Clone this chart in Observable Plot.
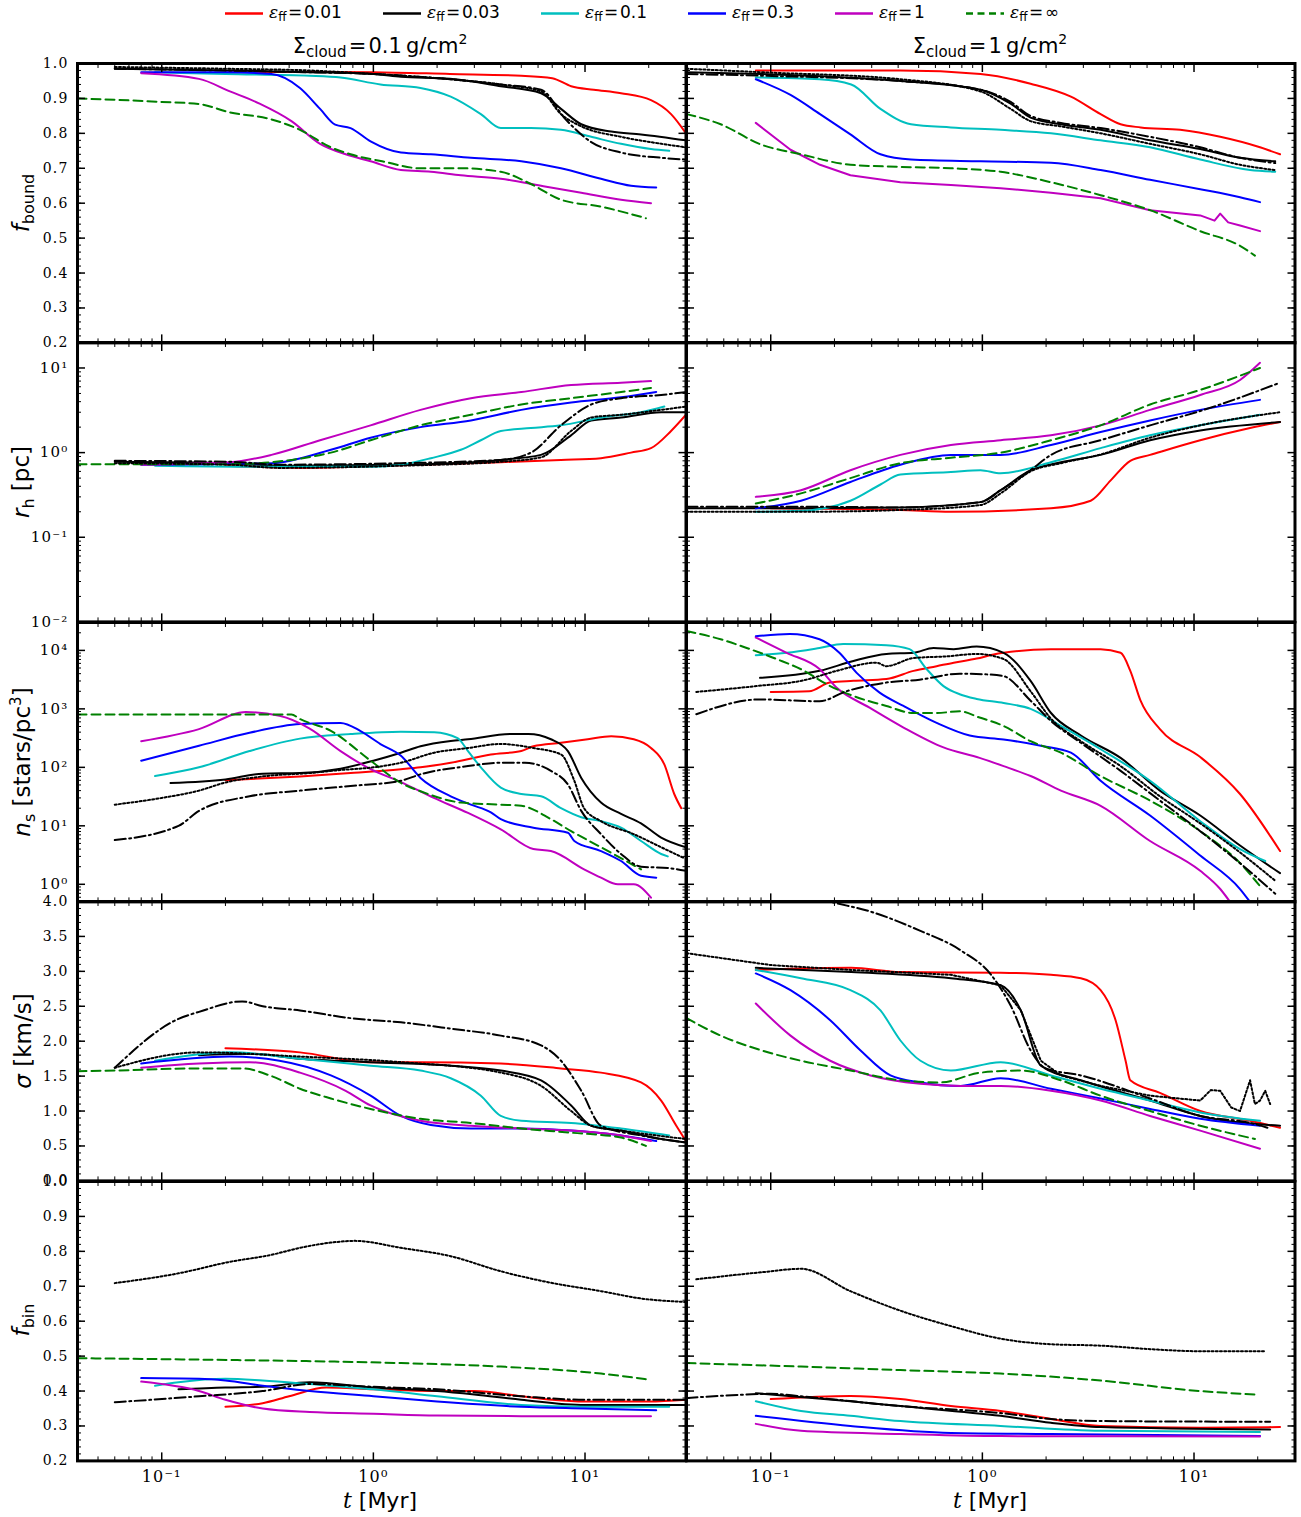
<!DOCTYPE html>
<html><head><meta charset="utf-8">
<script src="https://cdn.jsdelivr.net/npm/d3@7"></script>
<script src="https://cdn.jsdelivr.net/npm/@observablehq/plot@0.6"></script>
<style>
body{margin:0;background:#fff;}
#root{position:relative;width:1301px;height:1517px;overflow:hidden;font-family:"DejaVu Sans",sans-serif;color:#000;}
.abs{position:absolute;white-space:nowrap;line-height:1;}
.ylab{font-size:23px;transform:translate(-50%,-50%) rotate(-90deg);}
.ylab sub{font-size:16px;vertical-align:-5px;}
.ylab sup{font-size:15px;vertical-align:9px;}
.title{font-size:21px;transform:translate(-50%,-50%);}
.title sub{font-size:15px;vertical-align:-4px;}
.title sup{font-size:14px;vertical-align:9px;}
.xlab{font-size:22px;transform:translate(-50%,-50%);}
.leg{font-size:17px;transform:translateY(-50%);}
.leg sub{font-size:12px;vertical-align:-3px;}
</style></head><body><div id="root"></div>
<script>
// ---------------- time axis ticks (Myr) ----------------
const xMajorTicks = [0.1, 1, 10];
const xMinorTicks = [0.05,0.06,0.07,0.08,0.09,0.2,0.3,0.4,0.5,0.6,0.7,0.8,0.9,2,3,4,5,6,7,8,9,20];

// ---------------- row 1 : f_bound ----------------
const fboundL_e001 = [[0.2,0.975],[0.5,0.976],[1,0.975],[2.3,0.97],[5,0.965],[7,0.958],[8.6,0.935],[11,0.925],[14.8,0.915],[20.5,0.895],[25.5,0.855],[30,0.80]];
const fboundL_e003 = [[0.06,0.985],[0.2,0.98],[0.5,0.975],[1,0.97],[1.35,0.962],[2.3,0.956],[4,0.935],[6.2,0.915],[7.7,0.87],[9.6,0.826],[13.3,0.805],[18.4,0.797],[30,0.78]];
const fboundL_e003dot = [[0.06,0.99],[0.2,0.985],[0.5,0.98],[1,0.97],[2.3,0.955],[4,0.94],[6.2,0.92],[7.7,0.855],[9.6,0.82],[14.8,0.79],[23,0.77],[30,0.76]];
const fboundL_e003dd = [[0.06,0.985],[0.2,0.98],[0.5,0.975],[1,0.97],[2.3,0.955],[4,0.94],[6.2,0.925],[8.1,0.84],[10.7,0.775],[14.8,0.745],[23,0.73],[30,0.725]];
const fboundL_e01 = [[0.093,0.975],[0.2,0.97],[0.5,0.965],[0.7,0.96],[1.08,0.94],[1.67,0.93],[2.32,0.905],[3.22,0.855],[4,0.815],[5.55,0.815],[7.7,0.81],[10.7,0.79],[14.8,0.77],[20.5,0.755],[25,0.75]];
const fboundL_e03 = [[0.08,0.975],[0.2,0.975],[0.33,0.97],[0.45,0.93],[0.56,0.87],[0.66,0.825],[0.78,0.815],[0.97,0.777],[1.35,0.745],[1.87,0.74],[2.89,0.73],[5,0.72],[7.7,0.70],[11.9,0.67],[16.5,0.65],[21.7,0.645]];
const fboundL_e1 = [[0.08,0.972],[0.15,0.956],[0.21,0.92],[0.29,0.885],[0.41,0.835],[0.56,0.77],[0.74,0.74],[0.97,0.72],[1.35,0.695],[1.87,0.69],[2.59,0.68],[4,0.67],[6.2,0.65],[9.6,0.63],[14.8,0.61],[20.5,0.60]];
const fboundL_einf = [[0.04,0.90],[0.1,0.89],[0.15,0.884],[0.21,0.86],[0.33,0.84],[0.45,0.81],[0.63,0.76],[0.78,0.74],[1.1,0.72],[1.67,0.70],[2.59,0.70],[4,0.69],[5.55,0.655],[7.7,0.61],[11.9,0.59],[19.4,0.557]];

const fboundR_e001 = [[0.085,0.98],[0.41,0.98],[0.98,0.97],[1.69,0.942],[2.62,0.905],[3.62,0.855],[4.5,0.826],[5.6,0.817],[8.6,0.81],[13.3,0.79],[20.5,0.76],[25.5,0.74]];
const fboundR_e003 = [[0.04,0.975],[0.09,0.97],[0.41,0.95],[0.98,0.925],[1.36,0.885],[1.69,0.845],[2.35,0.826],[3.62,0.81],[6.2,0.78],[10.7,0.755],[16.5,0.73],[24.2,0.72]];
const fboundR_e003dot = [[0.04,0.985],[0.09,0.975],[0.41,0.955],[0.98,0.92],[1.36,0.87],[1.69,0.835],[2.35,0.82],[3.62,0.80],[6.2,0.77],[10.7,0.74],[16.5,0.71],[24.2,0.695]];
const fboundR_e003dd = [[0.04,0.97],[0.09,0.965],[0.41,0.95],[0.98,0.925],[1.36,0.89],[1.69,0.85],[2.35,0.83],[3.62,0.815],[6.2,0.79],[10.7,0.76],[16.5,0.73],[24.2,0.715]];
const fboundR_e01 = [[0.085,0.96],[0.17,0.955],[0.24,0.94],[0.33,0.87],[0.46,0.826],[0.71,0.817],[1.22,0.81],[2.11,0.80],[3.62,0.78],[6.2,0.76],[10.7,0.725],[18.4,0.695],[24.2,0.69]];
const fboundR_e03 = [[0.085,0.955],[0.124,0.91],[0.171,0.855],[0.238,0.797],[0.33,0.74],[0.46,0.725],[0.98,0.72],[2.11,0.716],[3.62,0.695],[6.2,0.667],[10.7,0.64],[16.5,0.617],[20.5,0.603]];
const fboundR_e1 = [[0.085,0.83],[0.124,0.753],[0.171,0.71],[0.238,0.68],[0.41,0.66],[0.71,0.652],[1.22,0.643],[2.11,0.63],[3.62,0.614],[6.2,0.58],[10.7,0.565],[12.5,0.55],[13.3,0.57],[14.5,0.545],[16.5,0.536],[20.5,0.52]];
const fboundR_einf = [[0.04,0.855],[0.058,0.826],[0.09,0.768],[0.139,0.74],[0.238,0.71],[0.41,0.704],[0.71,0.70],[1.22,0.69],[2.11,0.66],[3.62,0.623],[6.2,0.58],[10.7,0.52],[16.5,0.478],[19.4,0.45]];

// ---------------- row 2 : r_h [pc] ----------------
const rhL_e001 = [[0.2,0.70],[0.45,0.66],[1.35,0.71],[4,0.77],[7.7,0.82],[11.9,0.86],[16.5,1.0],[20.5,1.13],[25.5,1.8],[30,2.8]];
const rhL_e003 = [[0.06,0.78],[0.21,0.75],[0.36,0.70],[1.35,0.72],[4,0.82],[6.19,0.94],[8.59,1.6],[10.7,2.4],[14.8,2.6],[22.9,3.0],[30,3.0]];
const rhL_e003dot = [[0.06,0.75],[0.21,0.72],[0.36,0.66],[1.35,0.70],[4,0.78],[6.19,0.88],[8.59,1.8],[10.7,2.6],[14.8,2.8],[22.9,3.2],[30,3.5]];
const rhL_e003dd = [[0.06,0.80],[0.21,0.78],[0.36,0.72],[1.35,0.75],[4,0.82],[5.55,1.0],[7.7,2.1],[10.7,3.7],[14.8,4.4],[22.9,4.8],[30,5.2]];
const rhL_e01 = [[0.093,0.70],[0.3,0.68],[1,0.68],[1.35,0.72],[1.87,0.86],[2.59,1.08],[3.22,1.4],[4,1.8],[5.55,1.95],[7.7,2.1],[11.9,2.6],[18.4,3.0],[23.7,3.5]];
const rhL_e03 = [[0.08,0.72],[0.33,0.75],[0.63,1.08],[0.97,1.5],[1.67,2.0],[2.89,2.4],[5,3.2],[8.6,3.9],[14.8,4.5],[21.7,5.2]];
const rhL_e1 = [[0.08,0.72],[0.21,0.77],[0.33,0.94],[0.56,1.4],[0.97,2.1],[1.67,3.2],[2.89,4.4],[5,5.2],[8.6,6.3],[14.8,6.7],[20.5,7.0]];
const rhL_einf = [[0.04,0.73],[0.21,0.73],[0.33,0.77],[0.45,0.85],[0.63,1.0],[0.97,1.4],[1.67,2.1],[2.89,2.8],[5,3.7],[8.6,4.4],[14.8,5.2],[20.5,5.8]];

const rhR_e001 = [[0.1,0.22],[0.41,0.21],[0.71,0.20],[2.11,0.22],[3.25,0.27],[4.04,0.47],[5,0.8],[6.2,0.94],[10.7,1.4],[18.4,1.95],[25.5,2.3]];
const rhR_e003 = [[0.04,0.22],[0.139,0.22],[0.41,0.225],[0.98,0.26],[1.22,0.36],[1.69,0.62],[2.35,0.77],[3.62,0.94],[6.2,1.4],[10.7,1.83],[25.5,2.3]];
const rhR_e003dot = [[0.04,0.20],[0.139,0.20],[0.41,0.21],[0.98,0.24],[1.22,0.33],[1.69,0.60],[2.35,0.75],[3.62,0.95],[6.2,1.5],[10.7,2.1],[25.5,3.0]];
const rhR_e003dd = [[0.04,0.23],[0.139,0.23],[0.41,0.225],[0.98,0.26],[1.22,0.36],[1.69,0.62],[2.11,0.94],[3.62,1.4],[6.2,2.1],[10.7,3.1],[25.5,6.7]];
const rhR_e01 = [[0.085,0.20],[0.139,0.205],[0.238,0.27],[0.33,0.42],[0.41,0.55],[0.71,0.59],[0.98,0.62],[1.22,0.57],[2.11,0.77],[3.62,1.13],[6.2,1.6],[10.7,2.1],[20.5,2.8]];
const rhR_e03 = [[0.085,0.22],[0.139,0.27],[0.238,0.45],[0.41,0.72],[0.71,0.94],[1.22,0.94],[2.11,1.23],[3.62,1.75],[6.2,2.4],[10.7,3.2],[20.5,4.2]];
const rhR_e1 = [[0.085,0.30],[0.139,0.36],[0.238,0.62],[0.41,0.94],[0.71,1.23],[1.22,1.4],[2.11,1.6],[3.62,2.1],[6.2,3.2],[10.7,4.8],[16.5,7.2],[20.5,11.5]];
const rhR_einf = [[0.085,0.25],[0.139,0.33],[0.238,0.5],[0.41,0.75],[0.71,0.87],[1.22,1.0],[2.11,1.4],[3.62,2.1],[6.2,3.7],[10.7,5.5],[20.5,10]];

// ---------------- row 3 : n_s [stars/pc^3] ----------------
const nsL_e001 = [[0.2,60],[0.45,70],[0.78,80],[1.35,93],[1.67,100],[2.32,120],[3.59,166],[5,190],[5.7,229],[7.7,263],[10.3,302],[13.3,339],[17,302],[20.5,214],[23.7,112],[26.4,35],[28.5,20]];
const nsL_e003 = [[0.11,54],[0.2,62],[0.3,78],[0.45,80],[0.7,95],[1,130],[1.35,178],[1.67,229],[2.32,282],[2.8,302],[4.5,372],[5.4,372],[6.9,302],[8.3,190],[9.6,66],[11.9,25],[14.8,16],[18.4,11],[22.9,6.3],[30,4.3]];
const nsL_e003dot = [[0.06,23],[0.1,30],[0.15,40],[0.2,55],[0.3,70],[0.5,80],[0.7,90],[1,100],[1.35,120],[1.94,178],[2.8,214],[4,251],[5.7,214],[7.7,166],[8.9,59],[9.9,20],[11.9,12],[17,7.2],[22.9,4.3],[29.4,2.8]];
const nsL_e003dd = [[0.06,5.7],[0.12,10],[0.15,18],[0.26,32],[0.45,40],[0.78,48],[1.35,59],[1.67,76],[2.8,105],[4,120],[5.2,120],[6.9,87],[8.3,51],[9.6,18],[11.9,7.2],[14.8,3.3],[18.4,2.0],[24.6,1.9],[30,1.7]];
const nsL_e01 = [[0.093,71],[0.15,100],[0.26,190],[0.45,310],[0.78,370],[1.35,407],[1.94,400],[2.5,316],[2.8,190],[3.22,100],[4,45],[5,35],[6.2,32],[7.7,20],[9.6,14],[11.9,12],[14.8,9.3],[18.4,5.5],[22.9,3.3],[24.6,3.0]];
const nsL_e03 = [[0.08,130],[0.15,234],[0.26,390],[0.45,550],[0.7,575],[0.87,417],[1.08,250],[1.35,158],[1.67,66],[2.32,32],[2.89,23],[3.59,17],[4,13],[5.7,9.3],[8.3,7.6],[8.9,5.5],[11.9,3.7],[14.8,2.5],[18.4,1.4],[21.7,1.3]];
const nsL_e1 = [[0.08,280],[0.15,450],[0.25,880],[0.36,760],[0.5,460],[0.7,190],[0.97,93],[1.35,56],[1.93,30],[2.8,16.6],[4,8.7],[5.7,4.0],[6.9,3.7],[9.9,1.8],[11.9,1.3],[14.3,1.0],[17,1.0],[20.5,0.59]];
const nsL_einf = [[0.04,800],[0.41,800],[0.45,670],[0.63,420],[0.97,130],[1.35,54],[1.67,39],[2.59,25],[4,23],[5,22],[6.9,13],[8.6,8.1],[11.9,4.3],[18.4,1.8]];

const nsR_e001 = [[0.1,1950],[0.152,2000],[0.19,2820],[0.246,3020],[0.352,3240],[0.473,4470],[0.608,5370],[0.732,6170],[0.94,7240],[1.13,8500],[1.26,9100],[2.11,10500],[3.62,10500],[4.5,9100],[5.0,4470],[5.59,1380],[6.9,450],[10.7,150],[16.5,35],[25.5,3.7]];
const nsR_e003 = [[0.089,3390],[0.17,4470],[0.246,6600],[0.352,8700],[0.473,9100],[0.588,11000],[0.732,10500],[0.94,11700],[1.26,9100],[1.69,3000],[2.11,850],[2.92,350],[4.5,145],[6.9,40],[10.7,15],[16.5,4.6],[25.5,1.55]];
const nsR_e003dot = [[0.0445,1950],[0.085,2450],[0.144,3090],[0.205,4470],[0.316,6170],[0.352,5370],[0.473,7400],[0.676,7900],[0.94,8700],[1.26,7100],[1.69,2000],[2.11,680],[2.92,280],[4.5,105],[6.9,32],[10.7,11],[16.5,3.5],[24.2,1.15]];
const nsR_e003dd = [[0.0445,810],[0.089,1450],[0.17,1350],[0.228,2000],[0.352,2820],[0.505,3160],[0.781,4000],[1.05,3890],[1.26,3630],[1.69,1380],[2.11,620],[2.92,263],[4.5,87],[6.9,27],[10.7,8.1],[16.5,2.3],[24.2,0.69]];
const nsR_e01 = [[0.085,8300],[0.119,9100],[0.17,11000],[0.22,12900],[0.352,12300],[0.453,10500],[0.545,4800],[0.655,2450],[0.781,1780],[0.94,1480],[1.26,1260],[1.69,1000],[2.35,510],[3.62,204],[6.2,59],[10.7,12],[16.5,4.0],[21.7,2.5]];
const nsR_e03 = [[0.085,17400],[0.123,19000],[0.17,15500],[0.211,9100],[0.254,4170],[0.327,1900],[0.424,1120],[0.608,575],[0.871,350],[1.26,300],[1.89,234],[2.62,178],[3.62,59],[6.2,15],[10.7,3.1],[16.5,0.83],[18.4,0.5]];
const nsR_e1 = [[0.085,16600],[0.119,9100],[0.17,4800],[0.205,2290],[0.293,1050],[0.424,480],[0.655,219],[0.97,145],[1.26,105],[1.69,71],[2.35,40],[3.62,22],[6.2,5.5],[10.7,1.7],[13.3,0.83],[14.8,0.5]];
const nsR_einf = [[0.04,21400],[0.058,15500],[0.077,11000],[0.107,7080],[0.144,4470],[0.184,2630],[0.246,1660],[0.352,1120],[0.473,850],[0.608,850],[0.781,910],[0.97,710],[1.26,510],[1.69,280],[2.35,178],[3.62,71],[6.2,27],[10.7,8.1],[16.5,2.3],[20.5,0.93]];

// ---------------- row 4 : sigma [km/s] ----------------
const sigL_e001 = [[0.2,1.9],[0.45,1.84],[0.97,1.7],[1.67,1.7],[4,1.68],[7.7,1.61],[11.9,1.55],[18.4,1.41],[22.9,1.15],[27,0.79],[30,0.57]];
const sigL_e003 = [[0.15,1.8],[0.26,1.82],[0.45,1.75],[0.97,1.7],[2.32,1.65],[4,1.58],[6.2,1.44],[8.6,1.08],[10.7,0.79],[14.8,0.72],[22.9,0.6],[30,0.55]];
const sigL_e003dot = [[0.06,1.62],[0.15,1.84],[0.45,1.78],[1.35,1.7],[4,1.55],[6.2,1.36],[8.6,1.0],[10.7,0.79],[14.8,0.72],[30,0.6]];
const sigL_e003dd = [[0.06,1.62],[0.12,2.32],[0.15,2.42],[0.24,2.57],[0.3,2.5],[0.45,2.44],[0.78,2.33],[1.35,2.27],[2.32,2.18],[4,2.08],[6.2,1.94],[7.7,1.72],[9.6,1.29],[11.9,0.79],[18.4,0.65],[30,0.55]];
const sigL_e01 = [[0.093,1.72],[0.21,1.84],[0.45,1.75],[0.97,1.65],[1.67,1.58],[2.32,1.47],[3.22,1.22],[4,0.93],[5,0.86],[8.6,0.83],[14.8,0.75],[25,0.65]];
const sigL_e03 = [[0.08,1.68],[0.21,1.78],[0.36,1.72],[0.63,1.51],[0.97,1.22],[1.35,0.93],[1.87,0.8],[2.89,0.75],[5,0.75],[8.6,0.72],[14.8,0.65],[21.7,0.57]];
const sigL_e1 = [[0.08,1.62],[0.15,1.68],[0.26,1.7],[0.45,1.55],[0.74,1.29],[0.97,1.08],[1.67,0.86],[2.89,0.79],[5,0.75],[8.6,0.72],[14.8,0.65],[20.5,0.57]];
const sigL_einf = [[0.04,1.57],[0.06,1.58],[0.15,1.61],[0.24,1.61],[0.33,1.5],[0.45,1.32],[0.63,1.18],[0.97,1.03],[1.67,0.89],[2.89,0.83],[5,0.75],[8.6,0.69],[14.8,0.62],[19.4,0.5]];

const sigR_e001 = [[0.085,3.02],[0.24,3.05],[0.41,2.99],[1.22,2.98],[2.11,2.95],[2.92,2.9],[3.62,2.73],[4.26,2.3],[4.75,1.72],[5.0,1.44],[6.9,1.26],[10.7,1.0],[18.4,0.86],[25.5,0.76]];
const sigR_e003 = [[0.085,3.05],[0.24,2.99],[0.71,2.9],[1.22,2.8],[1.52,2.44],[1.89,1.65],[2.92,1.44],[6.2,1.15],[10.7,0.93],[25.5,0.79]];
const sigR_e003dot = [[0.04,3.26],[0.1,3.09],[0.24,3.02],[0.71,2.95],[1.22,2.8],[1.52,2.44],[1.89,1.72],[2.35,1.51],[3.62,1.36],[6.2,1.22],[10.7,1.15],[12,1.3],[13.3,1.29],[15,1.05],[16.5,1.0],[18.4,1.44],[19.4,1.1],[20.5,1.15],[21.7,1.29],[22.9,1.1]];
const sigR_e003dd = [[0.06,4.5],[0.1,4.25],[0.19,4.0],[0.3,3.85],[0.5,3.59],[0.79,3.3],[1.1,2.95],[1.36,2.51],[1.69,1.87],[1.99,1.61],[2.92,1.51],[6.2,1.18],[10.7,0.93],[18.4,0.83],[22.9,0.75]];
const sigR_e01 = [[0.085,3.02],[0.139,2.9],[0.238,2.73],[0.33,2.44],[0.41,2.01],[0.51,1.72],[0.71,1.58],[1.22,1.7],[2.11,1.51],[3.62,1.32],[6.2,1.15],[10.7,0.98],[20.5,0.86]];
const sigR_e03 = [[0.085,2.97],[0.124,2.73],[0.191,2.3],[0.265,1.87],[0.368,1.51],[0.51,1.41],[0.79,1.36],[1.22,1.47],[2.11,1.32],[3.62,1.18],[6.2,1.03],[10.7,0.89],[20.5,0.79]];
const sigR_e1 = [[0.085,2.54],[0.124,2.08],[0.191,1.72],[0.296,1.51],[0.51,1.39],[0.79,1.36],[1.22,1.36],[2.11,1.29],[3.62,1.15],[6.2,0.93],[10.7,0.72],[20.5,0.46]];
const sigR_einf = [[0.04,2.33],[0.058,2.08],[0.09,1.87],[0.139,1.72],[0.238,1.58],[0.41,1.44],[0.635,1.41],[0.98,1.55],[1.52,1.58],[2.35,1.44],[3.62,1.22],[6.2,1.0],[10.7,0.79],[19.4,0.6]];

// ---------------- row 5 : f_bin ----------------
const fbinL_e001 = [[0.2,0.355],[0.3,0.365],[0.4,0.385],[0.6,0.41],[1,0.405],[2,0.40],[3,0.40],[5,0.385],[7,0.375],[10,0.37],[20,0.37],[30,0.375]];
const fbinL_e003 = [[0.12,0.405],[0.2,0.41],[0.3,0.412],[0.5,0.425],[1,0.41],[2,0.40],[3,0.39],[5,0.375],[10,0.36],[30,0.36]];
const fbinL_e003dot = [[0.06,0.709],[0.12,0.737],[0.21,0.77],[0.33,0.79],[0.45,0.81],[0.63,0.825],[0.82,0.83],[1.35,0.81],[2.32,0.786],[4,0.743],[6.9,0.71],[11.9,0.686],[18.4,0.665],[30,0.655]];
const fbinL_e003dd = [[0.06,0.368],[0.15,0.385],[0.3,0.40],[0.5,0.42],[1,0.412],[2,0.405],[5,0.385],[10,0.375],[30,0.375]];
const fbinL_e01 = [[0.093,0.415],[0.12,0.425],[0.2,0.435],[0.3,0.43],[0.5,0.42],[1,0.405],[2,0.385],[5,0.36],[10,0.355],[25,0.355]];
const fbinL_e03 = [[0.08,0.437],[0.15,0.435],[0.2,0.43],[0.3,0.415],[0.5,0.40],[1,0.385],[2,0.37],[5,0.355],[10,0.35],[21.7,0.345]];
const fbinL_e1 = [[0.08,0.427],[0.15,0.40],[0.2,0.375],[0.3,0.35],[0.5,0.34],[1,0.335],[2,0.33],[5,0.328],[10,0.328],[20.5,0.328]];
const fbinL_einf = [[0.04,0.494],[0.15,0.49],[0.45,0.486],[1.35,0.48],[4,0.47],[11.9,0.45],[19.4,0.434]];

const fbinR_e001 = [[0.1,0.377],[0.238,0.386],[0.41,0.377],[0.71,0.357],[1.22,0.343],[2.11,0.32],[3.62,0.30],[10.7,0.295],[25.5,0.297]];
const fbinR_e003 = [[0.085,0.394],[0.238,0.371],[0.41,0.357],[1.22,0.329],[2.11,0.309],[3.62,0.297],[22.9,0.29]];
const fbinR_e003dot = [[0.0445,0.72],[0.09,0.74],[0.139,0.75],[0.238,0.686],[0.41,0.63],[0.71,0.586],[1.22,0.55],[2.11,0.534],[3.62,0.53],[6.2,0.52],[10.7,0.514],[21.7,0.514]];
const fbinR_e003dd = [[0.04,0.38],[0.077,0.39],[0.1,0.392],[0.139,0.385],[0.41,0.357],[1.22,0.337],[2.11,0.32],[3.62,0.314],[22.9,0.312]];
const fbinR_e01 = [[0.085,0.371],[0.139,0.343],[0.238,0.329],[0.41,0.314],[1.22,0.30],[3.62,0.286],[20.5,0.283]];
const fbinR_e03 = [[0.085,0.329],[0.238,0.30],[0.71,0.28],[2.11,0.277],[20.5,0.271]];
const fbinR_e1 = [[0.085,0.306],[0.139,0.286],[0.41,0.277],[1.22,0.271],[20.5,0.27]];
const fbinR_einf = [[0.04,0.48],[0.139,0.47],[0.41,0.46],[1.22,0.45],[3.62,0.43],[10.7,0.40],[19.4,0.39]];

// ---------------- series styles & legend ----------------
const seriesKeys = ["e001","e003","e01","e03","e1","einf","e003dot","e003dd"];
const seriesColors = {e001:"#ff0000", e003:"#000000", e01:"#00bfbf", e03:"#0000ff", e1:"#bf00bf", einf:"#008000", e003dot:"#000000", e003dd:"#000000"};
const seriesDash = {einf:"9,5", e003dot:"2,2.2", e003dd:"11,3.5,2,3.5"};
const legendLabels = ["0.01","0.03","0.1","0.3","1","∞"];
const legendKeys = ["e001","e003","e01","e03","e1","einf"];
// noisy late-time segments drawn without smoothing
const jaggedSeries = new Set(["sigma:R:e003dot", "fbound:R:e1"]);

// ---------------- layout ----------------
const colLeft = [77, 685.5];
const panelW = 608.5;
const rowTop0 = 63, panelH = 279.4;
const M = {l: 80, r: 20, t: 20, b: 45};

const sup = {"-":"⁻","0":"⁰","1":"¹","2":"²","3":"³","4":"⁴"};
const powFmt = v => "10" + String(Math.round(Math.log10(v))).split("").map(c => sup[c]).join("");
const fix1 = d3.format(".1f");
const range = (a, b, s) => d3.range(Math.round((b - a) / s) + 1).map(i => +(a + i * s).toFixed(4));

const rows = [
  {name:"fbound", type:"linear", domain:[0.2,1.0], major: range(0.2,1.0,0.1), minor: range(0.2,1.0,0.02), fmt: fix1, fs: 14,
   L:{e001:fboundL_e001,e003:fboundL_e003,e003dot:fboundL_e003dot,e003dd:fboundL_e003dd,e01:fboundL_e01,e03:fboundL_e03,e1:fboundL_e1,einf:fboundL_einf},
   R:{e001:fboundR_e001,e003:fboundR_e003,e003dot:fboundR_e003dot,e003dd:fboundR_e003dd,e01:fboundR_e01,e03:fboundR_e03,e1:fboundR_e1,einf:fboundR_einf}},
  {name:"rh", type:"log", domain:[0.01,20], major:[0.01,0.1,1,10], minor:[0.02,0.03,0.04,0.05,0.06,0.07,0.08,0.09,0.2,0.3,0.4,0.5,0.6,0.7,0.8,0.9,2,3,4,5,6,7,8,9,20], fmt: powFmt, fs: 15,
   L:{e001:rhL_e001,e003:rhL_e003,e003dot:rhL_e003dot,e003dd:rhL_e003dd,e01:rhL_e01,e03:rhL_e03,e1:rhL_e1,einf:rhL_einf},
   R:{e001:rhR_e001,e003:rhR_e003,e003dot:rhR_e003dot,e003dd:rhR_e003dd,e01:rhR_e01,e03:rhR_e03,e1:rhR_e1,einf:rhR_einf}},
  {name:"ns", type:"log", domain:[0.5,30000], major:[1,10,100,1000,10000], minor:[0.5,0.6,0.7,0.8,0.9,2,3,4,5,6,7,8,9,20,30,40,50,60,70,80,90,200,300,400,500,600,700,800,900,2000,3000,4000,5000,6000,7000,8000,9000,20000,30000], fmt: powFmt, fs: 15,
   L:{e001:nsL_e001,e003:nsL_e003,e003dot:nsL_e003dot,e003dd:nsL_e003dd,e01:nsL_e01,e03:nsL_e03,e1:nsL_e1,einf:nsL_einf},
   R:{e001:nsR_e001,e003:nsR_e003,e003dot:nsR_e003dot,e003dd:nsR_e003dd,e01:nsR_e01,e03:nsR_e03,e1:nsR_e1,einf:nsR_einf}},
  {name:"sigma", type:"linear", domain:[0,4], major: range(0,4,0.5), minor: range(0,4,0.1), fmt: fix1, fs: 14,
   L:{e001:sigL_e001,e003:sigL_e003,e003dot:sigL_e003dot,e003dd:sigL_e003dd,e01:sigL_e01,e03:sigL_e03,e1:sigL_e1,einf:sigL_einf},
   R:{e001:sigR_e001,e003:sigR_e003,e003dot:sigR_e003dot,e003dd:sigR_e003dd,e01:sigR_e01,e03:sigR_e03,e1:sigR_e1,einf:sigR_einf}},
  {name:"fbin", type:"linear", domain:[0.2,1.0], major: range(0.2,1.0,0.1), minor: range(0.2,1.0,0.02), fmt: fix1, fs: 14,
   L:{e001:fbinL_e001,e003:fbinL_e003,e003dot:fbinL_e003dot,e003dd:fbinL_e003dd,e01:fbinL_e01,e03:fbinL_e03,e1:fbinL_e1,einf:fbinL_einf},
   R:{e001:fbinR_e001,e003:fbinR_e003,e003dot:fbinR_e003dot,e003dd:fbinR_e003dd,e01:fbinR_e01,e03:fbinR_e03,e1:fbinR_e1,einf:fbinR_einf}}
];

const root = document.getElementById("root");

function makePanel(row, ri, ci) {
  const data = ci === 0 ? row.L : row.R;
  const side = ci === 0 ? "L" : "R";
  const marks = [];
  for (const k of seriesKeys) {
    if (!data[k]) continue;
    const curve = jaggedSeries.has(`${row.name}:${side}:${k}`) ? "linear" : "monotone-x";
    marks.push(Plot.line(data[k], {x: d => d[0], y: d => d[1], stroke: seriesColors[k], strokeWidth: 2,
      strokeDasharray: seriesDash[k] || null, curve, clip: true}));
  }
  const blank = () => "";
  for (const a of ["bottom","top"]) {
    marks.push(Plot.axisX(xMajorTicks, {anchor: a, tickSize: -8, strokeWidth: 1.5, tickFormat: blank, label: null}));
    marks.push(Plot.axisX(xMinorTicks, {anchor: a, tickSize: -4, strokeWidth: 1, tickFormat: blank, label: null}));
  }
  for (const a of ["left","right"]) {
    marks.push(Plot.axisY(row.major, {anchor: a, tickSize: -8, strokeWidth: 1.5, tickFormat: blank, label: null}));
    marks.push(Plot.axisY(row.minor, {anchor: a, tickSize: -4, strokeWidth: 1, tickFormat: blank, label: null}));
  }
  if (ci === 0) {
    marks.push(Plot.axisY(row.major, {anchor: "left", tickSize: 0, tickPadding: 9, tickFormat: row.fmt, label: null, fontSize: row.fs}));
  }
  if (ri === rows.length - 1) {
    marks.push(Plot.axisX(xMajorTicks, {anchor: "bottom", tickSize: 0, tickPadding: 10, tickFormat: powFmt, label: null, fontSize: 16}));
  }
  marks.push(Plot.frame({stroke: "#000", strokeWidth: 3}));
  const svg = Plot.plot({
    width: panelW + M.l + M.r,
    height: panelH + M.t + M.b,
    marginLeft: M.l, marginRight: M.r, marginTop: M.t, marginBottom: M.b,
    x: {type: "log", domain: [0.04, 30]},
    y: {type: row.type, domain: row.domain},
    style: {background: "transparent", overflow: "visible", fontFamily: "'DejaVu Serif', serif", fontSize: "14px", letterSpacing: "1.2px", color: "#000"},
    marks
  });
  svg.style.position = "absolute";
  svg.style.left = (colLeft[ci] - M.l) + "px";
  svg.style.top = (rowTop0 + ri * panelH - M.t) + "px";
  svg.style.maxWidth = "none";
  root.appendChild(svg);
}

rows.forEach((row, ri) => { makePanel(row, ri, 0); makePanel(row, ri, 1); });

// ---------------- text: legend, titles, axis labels ----------------
function addDiv(cls, html, x, y) {
  const d = document.createElement("div");
  d.className = "abs " + cls;
  d.innerHTML = html;
  d.style.left = x + "px";
  d.style.top = y + "px";
  root.appendChild(d);
  return d;
}
const legendX = [225, 383, 541, 688, 835, 966];
legendKeys.forEach((k, i) => {
  const dash = seriesDash[k] ? `stroke-dasharray="7,4.5"` : "";
  addDiv("leg", `<svg width="38" height="6" style="vertical-align:middle"><line x1="0" x2="38" y1="3" y2="3" stroke="${seriesColors[k]}" stroke-width="2.5" ${dash}/></svg>`, legendX[i], 13);
  addDiv("leg", `<i style="font-family:'DejaVu Serif'">ε</i><sub>ff</sub>&#8202;=&#8202;${legendLabels[i]}`, legendX[i] + 44, 13);
});
addDiv("title", "Σ<sub>cloud</sub>&#8202;=&#8202;0.1&#8201;g/cm<sup>2</sup>", 380, 46);
addDiv("title", "Σ<sub>cloud</sub>&#8202;=&#8202;1&#8201;g/cm<sup>2</sup>", 990, 46);
const ylabels = [
  `<i>f</i><sub>bound</sub>`,
  `<i>r</i><sub>h</sub> [pc]`,
  `<i>n</i><sub>s</sub> [stars/pc<sup>3</sup>]`,
  `<i>σ</i> [km/s]`,
  `<i>f</i><sub>bin</sub>`
];
ylabels.forEach((h, i) => addDiv("ylab", h, 23, rowTop0 + i * panelH + panelH / 2));
addDiv("xlab", `<i style="font-family:'DejaVu Serif'">t</i> [Myr]`, 380, 1501);
addDiv("xlab", `<i style="font-family:'DejaVu Serif'">t</i> [Myr]`, 990, 1501);
</script></body></html>
